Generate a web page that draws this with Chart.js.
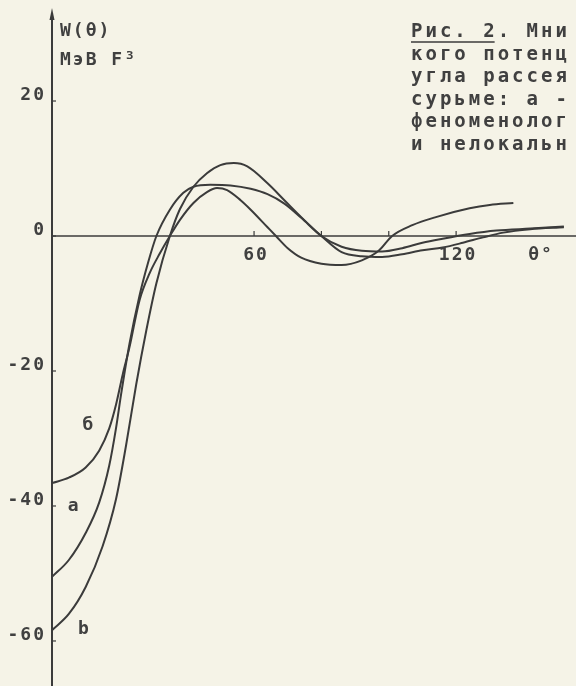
<!DOCTYPE html>
<html>
<head>
<meta charset="utf-8">
<script src="https://cdn.jsdelivr.net/npm/chart.js@4.4.1/dist/chart.umd.min.js"></script>
<style>
  html, body { margin: 0; padding: 0; background: #f5f3e7; }
  canvas { display: block; }
</style>
</head>
<body>
<canvas id="chart" width="576" height="686"></canvas>
<script>
// curve a
const thetaA = [0, 5, 10, 14, 17, 19, 20.5, 23, 26, 28.5, 31, 35, 39, 42, 47, 53, 59, 64, 69, 74, 80, 86, 92, 98, 104, 110, 116, 124, 132, 142, 152];
const wA = [-50.5, -48, -44, -39.5, -34, -28.5, -23.5, -16, -8.8, -4, 0, 3.9, 6.4, 7.3, 7.6, 7.5, 7.0, 6.2, 4.8, 2.7, 0, -1.6, -2.2, -2.3, -1.8, -1.0, -0.4, 0.3, 0.8, 1.1, 1.4];
// curve б
const thetaB = [0, 5, 10, 14, 17, 19, 21, 23, 26, 29, 32, 35, 38, 42, 46, 49, 52, 56, 59, 64, 66.5, 70, 74, 80, 86, 92, 97, 101, 107, 114, 124, 130, 137];
const wB = [-36.6, -35.8, -34.3, -31.8, -28.5, -25, -20.5, -16.5, -9.5, -5.5, -2.6, 0, 2.4, 4.9, 6.5, 7.1, 6.8, 5.3, 3.9, 1.3, 0, -1.8, -3.2, -4.1, -4.3, -3.6, -2.2, 0, 1.6, 2.8, 4.1, 4.6, 4.9];
// curve в
const thetaV = [0, 5, 10, 15, 19, 22, 25, 28, 31, 35, 38, 42, 46, 50, 54, 58, 64, 69, 74, 80, 86, 92, 98, 104, 110, 116, 122, 128, 134, 142, 152];
const wV = [-58.4, -56, -52, -46, -39, -31, -22, -14, -7, 0, 4, 7.3, 9.3, 10.5, 10.8, 10.3, 7.8, 5.3, 2.8, 0, -2.4, -3.0, -3.1, -2.7, -2.1, -1.7, -1.0, -0.2, 0.5, 1.0, 1.3];

const yTicks = [20, 0, -20, -40, -60];
const yTickLabels = ['20', '0', '-20', '-40', '-60'];
const xTicks = [60, 80, 100, 120];
const xTickLabels = ['60', '', '', '120'];

const curveNames = ['б', 'a', 'b'];
const curveLabelTheta = [10.7, 6.3, 9.3];
const curveLabelW = [-28, -40, -58.2];

const caption = ['Рис. 2. Мни', 'кого потенц', 'угла рассея', 'сурьме: а -', 'феноменолог', 'и нелокальн'];

const ink = '#3b3b3b';
const textInk = '#404040';
const FONT = 'bold 18px "DejaVu Sans Mono"';
const CAP_FONT = 'bold 19px "DejaVu Sans Mono"';

const pts = (xs, ys) => xs.map((x, i) => ({ x, y: ys[i] }));

const decor = {
  id: 'decor',
  beforeDatasetsDraw(chart) {
    const { ctx, scales: { x, y } } = chart;
    const x0 = x.getPixelForValue(0);
    const y0 = y.getPixelForValue(0);
    ctx.save();
    ctx.strokeStyle = ink;
    // zero line
    ctx.lineWidth = 1.3;
    ctx.beginPath();
    ctx.moveTo(x0, y0);
    ctx.lineTo(chart.width, y0);
    ctx.stroke();
    // y axis with arrow
    ctx.lineWidth = 2;
    ctx.beginPath();
    ctx.moveTo(x0, 14);
    ctx.lineTo(x0, chart.height);
    ctx.stroke();
    ctx.fillStyle = ink;
    ctx.beginPath();
    ctx.moveTo(x0, 8);
    ctx.lineTo(x0 - 2.5, 20);
    ctx.lineTo(x0 + 2.5, 20);
    ctx.closePath();
    ctx.fill();
    // tick marks
    ctx.lineWidth = 1.2;
    yTicks.forEach(v => {
      const py = y.getPixelForValue(v);
      ctx.beginPath();
      ctx.moveTo(x0, py);
      ctx.lineTo(x0 + 4, py);
      ctx.stroke();
    });
    xTicks.forEach(v => {
      const px = x.getPixelForValue(v);
      ctx.beginPath();
      ctx.moveTo(px, y0);
      ctx.lineTo(px, y0 - 5);
      ctx.stroke();
    });
    ctx.restore();
  },
  afterDatasetsDraw(chart) {
    const { ctx, scales: { x, y } } = chart;
    const x0 = x.getPixelForValue(0);
    const y0 = y.getPixelForValue(0);
    ctx.save();
    ctx.fillStyle = textInk;
    ctx.font = FONT;
    ctx.letterSpacing = '2px';
    ctx.textBaseline = 'middle';

    ctx.textAlign = 'right';
    yTicks.forEach((v, i) => {
      ctx.fillText(yTickLabels[i], x0 - 6, y.getPixelForValue(v) - 6);
    });

    ctx.textAlign = 'center';
    xTicks.forEach((v, i) => {
      if (xTickLabels[i]) ctx.fillText(xTickLabels[i], x.getPixelForValue(v) + 2, y0 + 19);
    });
    ctx.fillText('θ°', 541, y0 + 19);

    ctx.textAlign = 'left';
    ctx.fillText('W(θ)', x0 + 8, 31);
    ctx.fillText('МэВ F³', x0 + 8, 60);

    ctx.textAlign = 'center';
    curveNames.forEach((n, i) => {
      ctx.fillText(n, x.getPixelForValue(curveLabelTheta[i]) + 1, y.getPixelForValue(curveLabelW[i]));
    });

    ctx.font = CAP_FONT;
    ctx.letterSpacing = '3px';
    ctx.textAlign = 'left';
    const cx = 411;
    caption.forEach((line, i) => {
      ctx.fillText(line, cx, 32 + i * 22.6);
    });
    // underline "Рис. 2"
    const uw = ctx.measureText('Рис. 2').width - 3;
    ctx.strokeStyle = ink;
    ctx.lineWidth = 1.3;
    ctx.beginPath();
    ctx.moveTo(cx, 42);
    ctx.lineTo(cx + uw, 42);
    ctx.stroke();
    ctx.restore();
  }
};

const line = (data) => ({
  data,
  borderColor: ink,
  borderWidth: 2,
  pointRadius: 0,
  fill: false,
  cubicInterpolationMode: 'monotone'
});

new Chart(document.getElementById('chart'), {
  type: 'line',
  data: {
    datasets: [line(pts(thetaA, wA)), line(pts(thetaB, wB)), line(pts(thetaV, wV))]
  },
  options: {
    responsive: false,
    animation: false,
    devicePixelRatio: 1,
    layout: { padding: { left: 52, top: 13, right: 0, bottom: 0 } },
    plugins: { legend: { display: false }, tooltip: { enabled: false } },
    scales: {
      x: { type: 'linear', min: 0, max: 155.6, display: false },
      y: { min: -66.67, max: 33.04, display: false }
    }
  },
  plugins: [decor]
});
</script>
</body>
</html>
